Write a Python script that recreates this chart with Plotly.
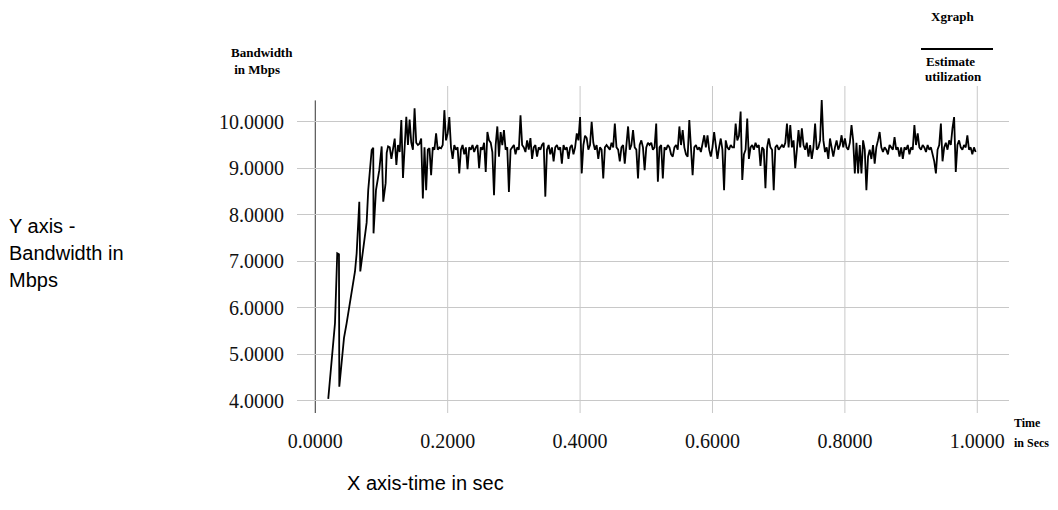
import plotly.graph_objects as go

# ---------------- data ----------------
# ramp-up phase (irregular samples)
ramp_time = [0.0196, 0.0298, 0.0332, 0.0358, 0.0363, 0.0434, 0.0474, 0.0550, 0.0600, 0.0625,
             0.0665, 0.0680, 0.0716, 0.0776, 0.0800, 0.0852, 0.0876, 0.0880, 0.0917, 0.0967,
             0.1003, 0.1027, 0.1063, 0.1079, 0.1100]
ramp_bw = [4.04, 5.67, 7.17, 7.15, 4.30, 5.35, 5.67, 6.37, 6.78, 7.17,
           8.28, 6.78, 7.17, 7.83, 8.53, 9.39, 9.44, 7.60, 8.53, 8.96,
           9.47, 8.28, 8.68, 9.33, 9.47]

# steady phase: samples every 2.5 ms starting at 0.1125 s
steady_start = 0.1125
steady_step = 0.0025
steady_bw = [
    9.45, 9.20, 9.46, 9.64, 9.07, 9.50, 9.35, 10.04, 8.79, 9.60, 10.11, 9.50, 10.05, 9.55, 9.40, 10.29, 9.55, 9.50, 9.53, 9.64,
    8.35, 9.45, 8.53, 9.40, 9.43, 8.85, 9.45, 9.40, 9.75, 9.40, 9.45, 9.43, 9.50, 10.25, 9.60, 9.75, 10.10, 9.45, 9.20, 9.50,
    9.40, 9.45, 8.89, 9.40, 9.50, 9.30, 9.45, 8.98, 9.45, 9.40, 9.50, 9.35, 9.45, 9.50, 9.00, 9.45, 9.40, 9.55, 8.92, 9.78,
    9.60, 9.55, 9.35, 8.42, 9.50, 9.90, 9.25, 9.78, 9.50, 9.82, 9.40, 9.45, 8.49, 9.40, 9.45, 9.50, 9.30, 9.45, 9.40, 10.14,
    9.50, 9.45, 9.35, 9.60, 9.40, 9.65, 9.20, 9.45, 9.50, 9.25, 9.45, 9.40, 9.50, 9.55, 8.39, 9.40, 9.50, 9.30, 9.45, 9.15,
    9.45, 9.50, 9.40, 9.45, 9.10, 9.50, 9.40, 9.45, 9.20, 9.45, 9.50, 9.30, 9.45, 9.75, 9.60, 10.10, 8.89, 9.50, 9.70, 9.65,
    9.40, 9.50, 10.00, 9.55, 9.40, 9.50, 9.20, 9.45, 9.40, 8.78, 9.45, 9.50, 9.45, 9.40, 9.55, 9.45, 9.96, 9.45, 9.40, 9.15,
    9.45, 9.50, 9.10, 9.45, 9.90, 9.40, 9.50, 9.82, 9.45, 9.40, 8.78, 9.50, 9.60, 9.45, 8.96, 9.45, 9.55, 9.50, 9.55, 9.40,
    9.45, 9.96, 8.71, 9.45, 9.50, 8.78, 9.45, 9.40, 9.50, 9.45, 9.30, 9.25, 9.45, 9.50, 9.40, 9.90, 9.50, 9.82, 9.45, 9.30,
    9.25, 10.04, 9.50, 8.85, 9.45, 9.50, 9.40, 9.45, 9.35, 9.55, 9.71, 9.45, 9.71, 9.40, 9.25, 9.45, 9.78, 9.50, 9.20, 9.45,
    9.64, 9.40, 8.53, 9.60, 9.45, 9.40, 9.50, 9.45, 9.45, 9.96, 9.60, 9.70, 10.22, 8.75, 9.30, 9.40, 10.07, 9.20, 9.45, 9.50,
    9.40, 9.55, 9.45, 9.50, 9.05, 9.45, 9.40, 8.57, 9.45, 9.64, 9.45, 9.40, 8.53, 9.45, 9.50, 9.40, 9.45, 9.50, 9.45, 9.55,
    9.96, 9.45, 9.93, 9.45, 9.60, 9.00, 9.40, 9.82, 9.45, 9.86, 9.50, 9.40, 9.55, 9.25, 9.50, 9.20, 9.45, 9.96, 9.40, 9.45,
    9.60, 10.47, 9.60, 9.35, 9.45, 9.20, 9.64, 9.40, 9.25, 9.45, 9.60, 9.40, 9.50, 9.71, 9.45, 9.64, 9.45, 9.40, 9.55, 9.93,
    9.60, 8.89, 9.55, 8.89, 9.50, 8.89, 9.60, 9.40, 8.53, 9.25, 9.40, 9.20, 9.50, 9.10, 9.45, 9.60, 9.78, 9.45, 9.35, 9.45,
    9.40, 9.30, 9.50, 9.45, 9.40, 9.67, 9.40, 9.45, 9.25, 9.45, 9.20, 9.45, 9.40, 9.50, 9.30, 9.45, 9.40, 9.93, 9.50, 9.75,
    9.45, 9.40, 9.50, 9.45, 9.35, 9.50, 9.40, 9.45, 9.30, 9.15, 8.89, 9.40, 9.50, 9.96, 9.15, 9.45, 9.55, 9.40, 9.60, 9.50,
    9.86, 10.10, 8.92, 9.50, 9.60, 9.45, 9.40, 9.50, 9.45, 9.71, 9.40, 9.45, 9.30, 9.45, 9.35,
]

x_ticks = [0.0, 0.2, 0.4, 0.6, 0.8, 1.0]
y_ticks = [4.0, 5.0, 6.0, 7.0, 8.0, 9.0, 10.0]

# ---------------- build ----------------
steady_time = [round(steady_start + i * steady_step, 4) for i in range(len(steady_bw))]
time = ramp_time + steady_time
bw = ramp_bw + steady_bw

W, H = 1058, 510
L, R, T, B = 297, 49, 86, 97
X_RANGE = [-0.0276, 1.0479]
Y_RANGE = [3.735, 10.77]

def px(xp):
    return (xp - L) / (W - L - R)

def py(yp):
    return (H - B - yp) / (H - T - B)

fig = go.Figure()
fig.add_trace(go.Scatter(x=time, y=bw, mode="lines",
                         line=dict(color="#000000", width=1.8),
                         showlegend=False, hoverinfo="skip"))

grid_col = "#c8c8c8"
# vertical grid lines
for t in x_ticks[1:]:
    fig.add_shape(type="line", xref="x", yref="y", x0=t, x1=t,
                  y0=Y_RANGE[0], y1=Y_RANGE[1], line=dict(color=grid_col, width=1), layer="below")
# y axis line
fig.add_shape(type="line", xref="x", yref="y", x0=0, x1=0, y0=Y_RANGE[0], y1=10.46,
              line=dict(color="#333333", width=1), layer="below")

serif = "Liberation Serif"
sans = "Liberation Sans"

fig.update_layout(
    width=W, height=H,
    margin=dict(l=L, r=R, t=T, b=B),
    paper_bgcolor="white", plot_bgcolor="white",
    xaxis=dict(range=X_RANGE, tickvals=x_ticks, tickformat=".4f", showgrid=False,
               zeroline=False, showline=False, ticks="outside", ticklen=10,
               tickcolor="rgba(0,0,0,0)",
               tickfont=dict(family=serif, size=20, color="#111111")),
    yaxis=dict(range=Y_RANGE, tickvals=y_ticks, tickformat=".4f", showgrid=True,
               gridcolor=grid_col, gridwidth=1, zeroline=False, showline=False,
               ticks="outside", ticklen=8, tickcolor="rgba(0,0,0,0)",
               tickfont=dict(family=serif, size=20, color="#111111")),
)

def note(text, x, y, font, size, bold=False, anchor="left"):
    fig.add_annotation(text=("<b>%s</b>" % text) if bold else text,
                       xref="paper", yref="paper", x=px(x), y=py(y),
                       xanchor=anchor, yanchor="middle", showarrow=False,
                       align="left", font=dict(family=font, size=size, color="#000000"))

note("Bandwidth", 229, 53, serif, 13, bold=True)
note(" in Mbps", 229, 70, serif, 13, bold=True)
note("Xgraph", 929, 17, serif, 13, bold=True)
note("Estimate", 924, 61, serif, 13, bold=True)
note("utilization", 923, 76, serif, 13, bold=True)
note("Time", 1012, 423, serif, 12, bold=True)
note("in Secs", 1012, 443, serif, 12, bold=True)
note("Y axis -", 7, 226, sans, 20)
note("Bandwidth in", 7, 253, sans, 20)
note("Mbps", 7, 280, sans, 20)
note("X axis-time in sec", 345, 483, sans, 20)

# legend line above "Estimate utilization"
fig.add_shape(type="line", xref="paper", yref="paper", x0=px(921), x1=px(993),
              y0=py(49), y1=py(49), line=dict(color="#000000", width=2))

fig.write_html("out.html")
